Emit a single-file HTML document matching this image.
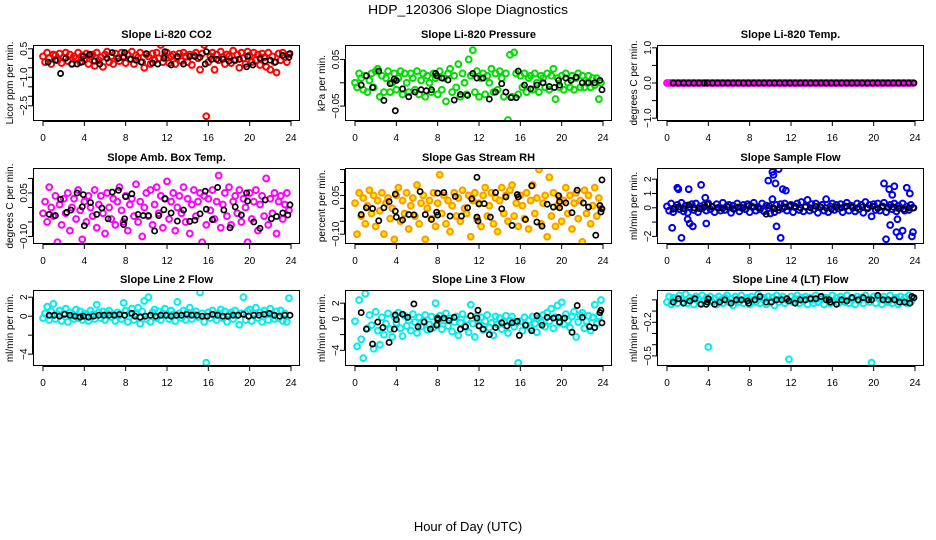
<!DOCTYPE html>
<html><head><meta charset="utf-8"><title>HDP_120306 Slope Diagnostics</title>
<style>
html,body{margin:0;padding:0;background:#fff;}
svg{display:block;font-family:"Liberation Sans",sans-serif;}
</style></head>
<body>
<svg id="chart" width="936" height="540" viewBox="0 0 936 540" xmlns="http://www.w3.org/2000/svg">
<rect x="0" y="0" width="936" height="540" fill="#fff"/>
<text x="468" y="14" font-size="13" text-anchor="middle" textLength="200" lengthAdjust="spacingAndGlyphs">HDP_120306  Slope Diagnostics</text>
<text x="468" y="531" font-size="13" text-anchor="middle">Hour of Day (UTC)</text>
</svg>
<script>
const xTicks=[0,4,8,12,16,20,24];
// Panel 1 CO2
const co2Vals=[0.1,-0.2,0.3,0.0,-0.3,0.2,0.15,-0.1,0.25,-0.25,0.05,0.3,-0.15,0.2,-0.3,0.1,0.0,0.3,-0.2,0.15,
-0.05,0.25,-0.3,0.1,0.2,-0.4,0.3,-0.1,0.05,-0.45,0.2,0.35,-0.2,0.1,-0.3,0.25,0.0,-0.15,0.3,0.1,
-0.25,0.2,-0.05,0.35,-0.3,0.15,0.05,0.3,-0.2,-0.5,0.2,0.1,-0.3,0.25,-0.1,0.3,0.0,0.7,-0.2,0.15,
0.3,-0.25,0.1,0.2,-0.3,0.05,0.25,-0.15,0.3,0.1,-0.2,0.2,-0.35,0.15,0.3,0.0,-0.6,0.25,0.7,-3.05,
-0.2,0.1,0.3,-0.6,0.2,-0.1,0.35,0.05,-0.3,0.2,0.1,-0.25,0.4,-0.1,0.2,-0.5,0.3,0.0,-0.3,0.35,
0.15,-0.2,0.3,-0.1,0.2,-0.35,0.25,0.05,-0.45,0.3,-0.6,0.1,-0.2,-0.75,0.25,-0.1,0.3,0.05,-0.2,0.2];
const co2BlackHours=[0.5,1.2,1.7,2.2,2.8,3.3,3.8,3.9,4.5,5.0,5.5,6.2,6.7,7.3,7.8,7.9,8.5,9.0,9.5,10.0,10.6,11.1,11.7,11.8,12.4,13.0,13.6,14.2,14.7,15.2,15.7,15.8,16.3,16.8,17.4,18.0,18.5,19.0,19.7,19.8,20.3,21.0,21.5,22.0,22.5,23.2,23.8,23.9];
const co2BlackVals=[-0.2,-0.1,-0.8,0.0,-0.3,-0.3,-0.2,0.1,0.2,-0.15,-0.3,0.0,0.3,0.0,0.05,0.3,-0.05,-0.1,-0.2,0.25,-0.25,-0.3,0.0,0.35,-0.35,0.1,-0.3,0.1,0.1,0.05,-0.3,0.35,-0.05,-0.05,-0.05,-0.15,-0.1,-0.05,-0.45,0.1,-0.35,0.0,-0.15,-0.1,-0.2,0.15,0.05,0.25];
// Panel 2 Pressure
const presVals=[0.0,-0.01,0.02,0.01,-0.015,0.015,-0.02,0.005,0.02,-0.01,0.025,0.03,-0.03,0.015,-0.02,0.01,0.025,-0.02,0.0,0.02,
-0.015,0.01,0.025,-0.025,0.02,0.0,-0.02,0.02,0.01,-0.015,0.025,-0.025,0.005,0.02,-0.03,0.015,0.0,-0.02,0.02,0.01,
-0.025,0.025,-0.015,0.01,-0.04,0.02,0.03,-0.02,0.015,-0.01,0.04,-0.03,0.02,0.0,-0.025,0.05,0.015,0.07,-0.02,0.025,
-0.03,0.01,0.02,-0.025,0.015,0.0,0.03,-0.02,0.02,-0.015,0.025,0.01,-0.03,0.02,-0.08,0.06,-0.03,0.065,0.02,-0.025,
0.015,-0.01,0.02,-0.02,0.01,0.015,-0.015,0.02,0.0,-0.02,0.015,0.01,-0.01,0.02,-0.015,0.015,0.03,-0.035,0.01,-0.01,
0.015,-0.015,0.02,0.0,-0.01,0.015,-0.015,0.01,0.02,-0.01,0.015,-0.01,0.0,0.015,-0.01,0.01,-0.005,0.01,-0.035,0.0];
const presBlackHours=[0.6,1.1,1.7,2.3,2.8,3.4,3.8,3.9,4.0,4.6,5.2,5.8,6.4,6.9,7.4,7.8,7.9,8.4,9.0,9.6,10.2,10.9,11.4,11.8,12.4,13.0,13.6,14.2,14.6,15.1,15.6,15.8,16.4,17.0,17.6,18.2,18.8,19.3,19.7,19.8,20.4,20.9,21.4,22.0,22.6,23.2,23.7,23.9];
const presBlackVals=[-0.005,0.015,-0.01,0.025,-0.038,-0.002,0.008,-0.06,0.005,-0.013,-0.03,-0.02,-0.015,-0.017,-0.015,0.02,0.015,0.01,0.006,-0.037,-0.025,-0.027,0.02,0.01,0.01,-0.035,-0.02,-0.002,-0.02,-0.032,-0.032,0.025,-0.005,-0.013,-0.005,0.0,-0.008,-0.01,0.005,-0.005,0.01,0.005,0.012,0.0,0.0,0.0,0.005,-0.015];
// Panel 3 Temp
const tempVals=[0,0,0,0,0,0,0,0,0,0,0,0,0,0,0,0,0,0,0,0,0,0,0,0,0,0,0,0,0,0,0,0,0,0,0,0,0,0,0,0,0,0,0,0,0,0,0,0,0,0,0,0,0,0,0,0,0,0,0,0,
0,0,0,0,0,0,0,0,0,0,0,0,0,0,0,0,0,0,0,0,0,0,0,0,0,0,0,0,0,0,0,0,0,0,0,0,0,0,0,0,0,0,0,0,0,0,0,0,0,0,0,0,0,0,0,0,0,0,0,0];
const tempBlackHours=[0.6,1.1,1.6,2.1,2.6,3.1,3.6,3.9,4.4,4.9,5.4,5.9,6.4,6.9,7.4,7.9,8.4,8.9,9.4,9.9,10.4,10.9,11.4,11.9,12.4,12.9,13.4,13.9,14.4,14.9,15.4,15.9,16.4,16.9,17.4,17.9,18.4,18.9,19.4,19.9,20.4,20.9,21.4,21.9,22.4,22.9,23.4,23.9];
const tempBlackVals=[0,0,0,0,0,0,0,0,0,0,0,0,0,0,0,0,0,0,0,0,0,0,0,0,0,0,0,0,0,0,0,0,0,0,0,0,0,0,0,0,0,0,0,0,0,0,0,0];
// Panel 4 Amb box temp
const ambVals=[-0.02,0.02,-0.05,0.07,0.0,-0.03,0.04,-0.12,0.01,-0.06,0.03,-0.02,0.05,-0.08,0.0,0.03,-0.04,0.06,-0.01,-0.11,
0.02,-0.05,0.04,0.0,-0.03,0.06,-0.07,0.01,0.04,-0.02,-0.09,0.05,0.0,-0.04,0.03,-0.06,0.02,0.07,-0.01,-0.05,
0.04,-0.08,0.01,0.03,-0.03,0.08,-0.05,0.02,-0.1,0.0,0.05,-0.03,0.06,-0.06,0.01,0.07,-0.02,0.04,-0.07,0.03,
0.09,-0.04,0.02,0.05,-0.08,0.0,0.04,-0.02,0.07,-0.05,0.03,-0.09,0.01,0.06,-0.03,0.02,0.05,-0.12,0.04,-0.06,
0.03,-0.01,0.06,-0.04,0.02,0.11,-0.07,0.01,0.05,-0.03,0.07,-0.06,0.02,0.04,-0.02,0.06,-0.05,0.03,0.0,-0.12,
0.05,-0.04,0.02,0.06,-0.08,0.01,0.04,-0.03,0.1,-0.06,0.03,-0.02,0.05,-0.09,0.02,0.04,-0.04,0.01,0.05,-0.01];
const ambBlackHours=[0.6,1.2,1.7,2.3,2.7,3.3,3.8,3.9,4.0,4.6,5.2,5.7,6.3,6.7,7.3,7.8,7.9,8.0,8.6,9.2,9.7,10.2,10.8,11.2,11.7,11.8,12.4,13.0,13.6,14.2,14.7,15.2,15.7,15.8,16.4,16.9,17.5,18.1,18.6,19.2,19.7,19.8,20.4,21.0,21.5,22.1,22.6,23.2,23.7,23.9];
const ambBlackVals=[-0.024,-0.028,0.028,-0.017,-0.009,0.05,0.002,0.044,-0.063,0.017,-0.024,-0.002,-0.039,0.053,0.059,-0.059,-0.039,0.037,0.047,-0.024,-0.028,-0.028,-0.081,-0.028,-0.008,0.03,-0.019,-0.047,-0.009,-0.048,-0.044,-0.022,0.056,-0.006,-0.042,0.069,-0.009,-0.07,0.002,-0.026,0.05,0.022,-0.05,-0.072,0.026,-0.039,-0.031,-0.019,-0.026,0.009];
// Panel 5 RH
const rhVals=[0.02,-0.1,0.06,-0.03,0.04,-0.06,0.01,0.07,-0.02,0.05,-0.07,0.03,-0.01,0.06,-0.1,0.02,0.04,-0.04,0.0,-0.12,
0.05,0.08,-0.05,0.03,-0.02,0.06,-0.08,0.01,0.04,-0.03,0.09,-0.06,0.02,0.05,-0.12,0.0,0.03,-0.04,0.06,-0.07,
0.02,0.13,-0.02,0.05,-0.06,0.03,-0.09,0.01,0.06,-0.03,0.04,-0.05,0.07,0.0,-0.02,0.05,-0.11,0.03,0.06,-0.04,
0.02,-0.07,0.05,0.08,-0.03,0.01,0.06,-0.06,0.04,-0.09,0.03,0.08,-0.02,0.05,-0.05,0.07,0.09,-0.03,0.02,-0.07,
0.05,0.01,-0.04,0.06,-0.08,0.03,0.09,-0.02,0.04,0.15,-0.06,0.02,0.05,-0.11,0.12,-0.03,0.06,-0.07,0.01,0.04,
-0.05,0.03,0.08,-0.02,0.05,-0.08,0.02,0.06,-0.04,0.03,-0.13,0.07,-0.02,0.05,-0.06,0.01,0.08,-0.03,0.04,0.0];
const rhBlackHours=[0.6,1.1,1.7,2.3,2.8,3.3,3.9,3.9,4.0,4.6,5.2,5.7,6.3,6.8,7.4,7.9,8.0,8.0,8.6,9.2,9.7,10.3,10.9,11.3,11.8,11.8,11.9,12.0,12.5,13.1,13.6,14.2,14.6,15.2,15.7,15.8,16.5,17.1,17.6,18.1,18.6,19.2,19.7,19.8,19.8,20.4,21.0,21.5,22.1,22.6,23.3,23.7,23.8,23.9,23.9];
const rhBlackVals=[-0.024,0.002,-0.001,-0.048,0.002,0.026,0.055,-0.011,-0.034,-0.045,-0.024,-0.025,0.065,-0.024,-0.043,-0.015,-0.026,0.059,0.061,-0.03,0.046,-0.03,0.002,0.037,0.12,-0.034,-0.049,0.017,0.018,-0.034,0.061,-0.002,0.044,-0.066,0.053,0.044,-0.043,0.087,-0.053,-0.069,0.016,0.005,0.049,0.026,0.002,0.021,-0.017,0.07,0.021,0.005,-0.104,0.011,-0.014,0.11,-0.002];
// Panel 6 Sample flow
const sampleVals=[0.1,-0.2,0.3,-0.3,0.0,0.2,-0.1,0.35,-0.25,0.15,-0.35,0.05,0.25,-0.15,0.3,-0.3,0.1,-0.05,0.2,-0.2,
0.3,-0.1,0.05,-0.3,0.25,0.0,-0.2,0.35,-0.15,0.1,0.2,-0.35,0.15,-0.05,0.3,-0.25,0.0,0.2,-0.1,0.25,
-0.3,0.1,0.35,-0.2,0.05,-0.1,0.3,-0.25,0.15,0.0,-0.4,0.6,-0.3,0.2,-0.15,0.25,-0.05,0.3,-0.2,0.1,
0.2,-0.3,0.05,0.3,-0.15,0.4,-0.25,0.1,0.55,-0.2,0.25,-0.1,0.3,-0.35,0.05,0.2,-0.2,0.6,-0.3,0.1,
0.3,-0.15,0.2,-0.05,0.25,-0.3,0.1,0.35,-0.2,0.15,0.0,-0.25,0.3,-0.1,0.2,-0.35,0.4,-0.05,0.2,-0.6,
0.25,-0.15,0.3,-0.2,0.1,0.35,-0.3,0.05,0.2,-0.1,0.3,-0.25,0.15,0.0,0.3,-0.2,0.1,-0.15,0.2,0.0];
const sampleExtraHours=[0.5,1.0,1.1,1.4,2.0,2.1,2.2,2.5,3.3,3.7,3.8,9.8,10.2,10.3,10.5,10.6,10.8,11.0,11.2,11.5,21.0,21.2,21.5,21.6,21.8,22.0,22.2,22.3,22.5,22.8,23.2,23.5,23.7,23.8];
const sampleExtraVals=[-1.4,1.4,1.3,-2.1,-0.8,1.3,-1.1,-1.3,1.6,0.7,-1.1,1.9,2.5,2.3,1.7,-1.3,2.7,-2.1,1.3,1.2,1.7,-2.2,1.3,-1.2,0.9,1.5,-1.7,-0.8,-2.0,-1.6,1.4,1.0,-2.0,-1.7];
const sampleBlackHours=[0.6,1.1,1.6,2.1,2.6,3.1,3.6,3.9,4.4,4.9,5.4,5.9,6.4,6.9,7.4,7.9,8.4,8.9,9.6,9.9,10.4,10.9,11.4,11.9,12.4,12.9,13.4,13.9,14.4,14.9,15.4,15.9,16.4,16.9,17.4,17.9,18.4,18.9,19.4,19.9,20.4,20.9,21.4,21.9,22.4,22.9,23.4,23.9];
const sampleBlackVals=[-0.1,0.05,-0.05,0.2,0.0,-0.05,0.05,0.25,0.1,0.0,-0.05,0.05,-0.1,0.05,0.0,0.15,0.05,0.0,-0.45,0.15,-0.05,0.0,0.05,0.15,0.1,0.0,0.05,0.0,0.1,0.05,0.0,-0.1,0.05,0.0,0.1,0.05,0.0,0.05,0.0,0.1,-0.05,0.1,0.0,0.05,-0.05,-0.1,0.0,0.0];
// Panel 7 Line 2
const line2Vals=[-0.2,0.3,1.0,-0.4,0.5,1.3,-0.3,0.2,0.6,-0.5,0.3,0.8,-0.6,0.4,0.1,-0.3,0.7,-0.2,0.5,-0.4,
0.3,0.1,-0.5,0.6,0.2,-0.3,1.2,0.4,-0.2,0.5,-0.4,0.3,0.6,-0.1,0.2,-0.5,0.4,0.1,-0.3,1.4,
0.6,-0.6,0.3,0.8,-0.4,0.2,0.9,-0.8,0.5,1.6,-0.3,2.0,-0.6,0.4,0.7,-0.2,0.5,-0.4,0.3,0.8,
0.1,-0.3,0.6,0.2,-0.5,1.5,0.3,-0.2,0.6,-0.4,0.4,0.9,-0.3,0.2,0.5,-0.1,2.5,0.3,-0.6,-4.9,
0.4,-0.2,0.6,0.1,-0.4,0.3,0.7,-0.2,0.5,-0.6,0.2,0.4,-0.3,0.6,0.1,-0.9,0.3,2.0,-0.4,0.5,
0.7,-0.5,0.3,0.9,-0.2,0.4,-0.6,0.6,0.2,-0.4,0.8,0.1,-0.3,0.5,-0.2,0.6,-0.5,0.3,-0.6,1.9];
const line2BlackHours=[0.6,1.1,1.6,2.1,2.6,3.1,3.6,3.9,4.4,4.9,5.4,5.9,6.4,6.9,7.4,7.9,8.6,8.9,9.4,9.9,10.4,10.9,11.4,11.9,12.4,12.9,13.4,13.9,14.4,14.9,15.4,15.9,16.4,16.9,17.4,17.9,18.4,18.9,19.4,19.9,20.4,20.9,21.4,21.9,22.4,22.9,23.4,23.9];
const line2BlackVals=[0.1,0.1,0.0,0.2,0.1,0.0,-0.1,0.0,-0.1,0.0,0.1,0.1,0.1,0.1,0.2,0.1,0.3,0.0,-0.1,0.0,0.1,0.0,0.1,0.1,0.0,0.1,0.1,0.2,0.1,0.1,0.0,0.0,0.2,0.1,0.0,0.0,0.1,0.1,0.2,0.0,0.1,0.1,0.2,0.3,0.1,0.0,0.1,0.1];
// Panel 8 Line 3
const line3Vals=[-0.3,-3.5,2.4,-2.6,-5.0,3.2,-1.2,0.5,-0.8,-3.8,0.9,-1.5,-3.3,0.2,-2.0,-0.6,0.7,-1.3,-2.3,0.3,
-0.5,0.8,-1.2,-2.2,0.4,-0.9,-0.2,-1.5,0.6,-0.4,-1.8,0.2,-1.0,-0.3,0.5,-1.4,-0.7,0.3,-1.1,2.0,
-0.6,0.4,-1.3,-0.2,0.7,-0.9,0.1,-1.6,-0.4,0.3,-2.1,-0.5,0.6,-1.0,-0.1,-1.7,1.8,-0.6,-2.3,0.4,
-0.8,0.2,-1.4,-0.3,0.5,-1.1,-0.5,-2.1,0.3,-0.7,0.1,-1.3,-0.4,0.4,-1.8,-0.2,0.3,-1.0,-0.5,-5.6,
-0.3,-1.5,0.2,-0.8,-0.2,-1.2,0.3,-0.6,-1.7,0.1,-0.4,0.5,-1.0,0.8,-0.3,1.3,-1.2,0.2,1.7,-0.5,
2.1,-0.7,0.6,-0.2,-1.1,0.3,0.9,-2.3,-0.4,0.5,0.8,-1.2,-0.3,0.4,-1.5,0.2,1.8,-0.6,0.3,2.4];
const line3BlackHours=[0.6,1.1,1.7,2.2,2.7,3.3,3.8,3.9,4.0,4.6,5.1,5.7,6.1,6.7,7.3,7.9,8.0,8.0,8.6,9.1,9.6,10.2,10.7,11.2,11.8,11.9,12.0,12.4,13.0,13.6,14.2,14.7,15.2,15.7,15.9,16.5,17.1,17.6,18.1,18.6,19.2,19.7,19.8,20.3,21.0,21.5,22.0,22.7,23.2,23.7,23.8,23.9];
const line3BlackVals=[0.8,-1.3,-3.2,-0.4,-1.1,-3.0,-1.3,0.5,-0.1,0.6,0.2,1.9,-1.0,-0.4,-1.3,-0.8,0.1,-0.1,0.1,-0.2,0.2,-1.3,-1.0,0.4,0.1,1.1,-0.9,-1.3,-2.0,-1.1,-0.5,-0.9,-0.5,-0.3,-2.1,-0.8,-1.5,0.4,-0.8,0.2,0.1,0.2,-0.4,0.1,-1.7,1.7,0.2,-1.0,-1.1,0.8,1.1,-0.5];
// Panel 9 Line 4
const line4Vals=[-0.02,0.03,-0.04,0.02,0.0,-0.03,0.04,0.01,-0.02,0.05,-0.03,0.02,0.0,-0.04,0.03,0.01,-0.03,0.04,-0.01,0.02,
-0.42,0.03,-0.02,0.01,-0.04,0.03,0.0,-0.03,0.02,0.04,-0.02,0.01,-0.05,0.03,0.0,-0.02,0.04,-0.03,0.01,0.02,
-0.04,0.03,0.0,-0.02,0.05,-0.03,0.01,0.02,-0.04,0.03,-0.01,0.02,-0.05,0.04,-0.02,0.01,0.03,-0.03,0.0,-0.53,
0.03,-0.02,0.01,0.04,-0.03,0.02,-0.01,0.03,-0.04,0.02,0.0,-0.03,0.04,-0.02,0.01,0.03,-0.04,0.02,0.0,-0.03,
0.04,-0.01,0.02,-0.03,0.03,0.0,-0.02,0.04,-0.03,0.01,0.02,-0.04,0.03,-0.01,0.02,-0.03,0.04,0.0,-0.02,-0.56,
0.03,-0.03,0.02,0.01,-0.04,0.03,0.0,-0.02,0.04,-0.03,0.01,0.02,-0.04,0.03,-0.01,0.02,-0.03,0.04,-0.02,0.01];
const line4BlackHours=[0.6,1.1,1.6,2.2,2.7,3.3,3.8,3.9,4.0,4.6,5.1,5.6,6.2,6.7,7.2,7.8,7.9,8.5,9.0,9.6,10.1,10.6,11.1,11.6,11.8,12.4,12.9,13.4,13.9,14.4,14.9,15.4,15.7,15.8,16.4,16.9,17.4,17.9,18.5,19.0,19.5,19.8,20.4,20.9,21.4,22.0,22.5,23.0,23.5,23.7,23.9];
const line4BlackVals=[-0.02,0.01,-0.03,-0.01,0.01,-0.04,-0.04,-0.02,0.01,-0.04,-0.02,0.0,-0.03,0.0,0.0,-0.01,-0.03,0.0,0.03,-0.02,-0.02,0.0,0.0,0.01,-0.01,-0.03,0.0,0.0,0.01,0.01,0.03,0.0,0.0,-0.02,-0.04,0.0,-0.01,0.02,0.0,0.02,0.0,0.0,0.04,0.0,0.0,0.0,-0.02,-0.02,-0.03,0.03,0.02];

const panels=[
 {id:'co2',col:0,row:0,title:'Slope Li-820 CO2',ylab:'Licor ppm per min.',ylim:[-3.3,0.7],ticks:[-2.5,-2,-1.5,-1,-0.5,0,0.5],labels:[-2.5,-1.0,0.5],dec:1,color:'#ff0000',fill:'none',vals:co2Vals,bh:co2BlackHours,bv:co2BlackVals},
 {id:'pressure',col:1,row:0,title:'Slope Li-820 Pressure',ylab:'kPa per min.',ylim:[-0.082,0.081],ticks:[-0.05,0,0.05],labels:[-0.05,0.05],dec:2,color:'#00dd00',fill:'none',vals:presVals,bh:presBlackHours,bv:presBlackVals},
 {id:'temp',col:2,row:0,title:'Slope Li-820 Temp.',ylab:'degrees C per min.',ylim:[-1.08,1.08],ticks:[-1,-0.5,0,0.5,1],labels:[-1,0,1],dec:1,color:'#ff00ff',fill:'none',vals:tempVals,bh:tempBlackHours,bv:tempBlackVals},
 {id:'amb-temp',col:0,row:1,title:'Slope Amb. Box Temp.',ylab:'degrees C per min.',ylim:[-0.126,0.136],ticks:[-0.1,-0.05,0,0.05,0.1],labels:[-0.1,0.05],dec:2,color:'#ff00ff',fill:'none',vals:ambVals,bh:ambBlackHours,bv:ambBlackVals},
 {id:'rh',col:1,row:1,title:'Slope Gas Stream RH',ylab:'percent per min.',ylim:[-0.138,0.156],ticks:[-0.1,-0.05,0,0.05,0.1,0.15],labels:[-0.1,0.05],dec:2,color:'#ff9900',fill:'#ffee00',vals:rhVals,bh:rhBlackHours,bv:rhBlackVals},
 {id:'sample-flow',col:2,row:1,title:'Slope Sample Flow',ylab:'ml/min per min.',ylim:[-2.53,2.78],ticks:[-2,-1,0,1,2],labels:[-2,0,1,2],dec:0,color:'#0000ee',fill:'none',vals:sampleVals,eh:sampleExtraHours,ev:sampleExtraVals,bh:sampleBlackHours,bv:sampleBlackVals},
 {id:'line2-flow',col:0,row:2,title:'Slope Line 2 Flow',ylab:'ml/min per min.',ylim:[-5.25,2.76],ticks:[-4,-2,0,2],labels:[-4,0,2],dec:0,color:'#00eeee',fill:'none',vals:line2Vals,bh:line2BlackHours,bv:line2BlackVals},
 {id:'line3-flow',col:1,row:2,title:'Slope Line 3 Flow',ylab:'ml/min per min.',ylim:[-6.0,3.68],ticks:[-4,-2,0,2],labels:[-4,0,2],dec:0,color:'#00eeee',fill:'none',vals:line3Vals,bh:line3BlackHours,bv:line3BlackVals},
 {id:'line4-flow',col:2,row:2,title:'Slope Line 4 (LT) Flow',ylab:'ml/min per min.',ylim:[-0.59,0.088],ticks:[-0.5,-0.4,-0.3,-0.2,-0.1,0],labels:[-0.5,-0.2],dec:1,color:'#00eeee',fill:'none',vals:line4Vals,bh:line4BlackHours,bv:line4BlackVals}
];
const NS='http://www.w3.org/2000/svg';
const svg=document.getElementById('chart');
function mk(tag,attrs,parent){const e=document.createElementNS(NS,tag);for(const k in attrs)e.setAttribute(k,attrs[k]);parent.appendChild(e);return e;}
const colLeft=[33,345,657], rowTop=[45,168,290], W=267, H=76;
function fmt(v,d){const s=Math.abs(v).toFixed(d);return (v<0?'\u2212':'')+s;}
panels.forEach(p=>{
 const L=colLeft[p.col], T=rowTop[p.row], B=T+H, R=L+W;
 const g=mk('g',{},svg);
 
 
 const xs=h=>L+10+h*(248/24);
 const ys=v=>T+(p.ylim[1]-v)/(p.ylim[1]-p.ylim[0])*H;
 const t=mk('text',{x:(L+R)/2,y:T-7,'font-size':11,'font-weight':'bold','text-anchor':'middle'},g);
 t.textContent=p.title;
 
 
 const yl=mk('text',{transform:`translate(${L-20},${(T+B)/2}) rotate(-90)`,'font-size':10,'text-anchor':'middle'},g);
 yl.textContent=p.ylab;
 
 
 const xa=mk('g',{stroke:'#000','stroke-width':1},g);
 
 
 mk('line',{x1:xs(0),x2:xs(24),y1:B+0.5,y2:B+0.5},xa);
 xTicks.forEach(h=>{
  mk('line',{x1:xs(h),x2:xs(h),y1:B,y2:B+5},xa);
  const lt=mk('text',{x:xs(h),y:B+20,'font-size':10,'text-anchor':'middle',stroke:'none'},g);
  lt.textContent=h;
  
  
 });
 const ya=mk('g',{stroke:'#000','stroke-width':1},g);
 
 
 mk('line',{x1:L-0.5,x2:L-0.5,y1:ys(p.ticks[0]),y2:ys(p.ticks[p.ticks.length-1])},ya);
 p.ticks.forEach(v=>{mk('line',{x1:L-5,x2:L,y1:ys(v),y2:ys(v)},ya);});
 p.labels.forEach(v=>{
  const lt=mk('text',{transform:`translate(${L-6},${ys(v)}) rotate(-90)`,'font-size':10,'text-anchor':'middle'},g);
  lt.textContent=fmt(v,p.dec);
  
  
 });
 const cp=mk('clipPath',{id:'clip-'+p.id},g);
 mk('rect',{x:L,y:T,width:W,height:H},cp);
 const pts=mk('g',{'clip-path':`url(#clip-${p.id})`},g);
 
 
 p.vals.forEach((v,i)=>{
  const c=mk('circle',{cx:xs(i*24/p.vals.length),cy:ys(v),r:2.9,fill:p.fill,stroke:p.color,'stroke-width':2},pts);
  
  
 });
 if(p.eh){p.eh.forEach((h,i)=>{
  const c=mk('circle',{cx:xs(h),cy:ys(p.ev[i]),r:2.9,fill:p.fill,stroke:p.color,'stroke-width':2},pts);
  
  
 });}
 p.bh.forEach((h,i)=>{
  const c=mk('circle',{cx:xs(h),cy:ys(p.bv[i]),r:2.6,fill:'none',stroke:'#000','stroke-width':1.7},pts);
  
  
 });
 const box=mk('rect',{x:L+0.5,y:T+0.5,width:W-1,height:H-1,fill:'none',stroke:'#000','stroke-width':1},g);
 
 
});
</script>
</body></html>
